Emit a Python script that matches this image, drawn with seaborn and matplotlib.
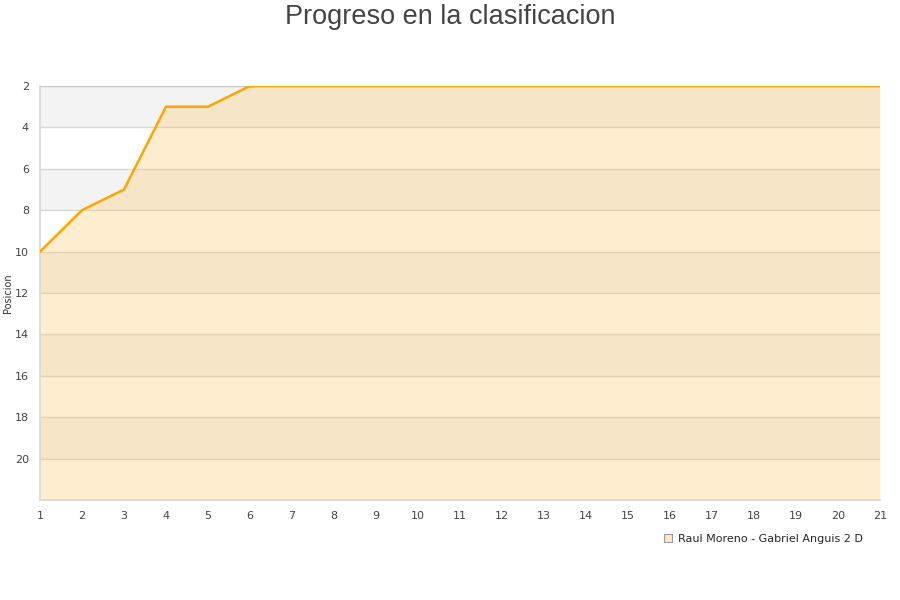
import matplotlib
matplotlib.use("Agg")
import numpy as np
import pandas as pd
import seaborn as sns
from matplotlib import pyplot as plt
from matplotlib.lines import Line2D

jornadas = list(range(1, 22))
posicion = [10, 8, 7, 3, 3, 2, 2, 2, 2, 2, 2, 2, 2, 2, 2, 2, 2, 2, 2, 2, 2]
y_ticks = [2, 4, 6, 8, 10, 12, 14, 16, 18, 20]
team_name = "Raul Moreno - Gabriel Anguis 2 D"

df = pd.DataFrame({"Jornada": jornadas, "Posicion": posicion})

sns.set_theme(style="white")
plt.rcParams["font.family"] = ["DejaVu Sans"]

fig = plt.figure(figsize=(9, 6), dpi=100)
ax = fig.add_axes([40 / 900, 100 / 600, 840 / 900, 414 / 600])

y_min, y_max = 2, 22
# alternating background bands
for i, lo in enumerate(range(y_min, y_max, 2)):
    if i % 2 == 0:
        ax.axhspan(lo, lo + 2, color="#f3f3f3", zorder=0, lw=0)
for t in y_ticks[1:]:
    ax.axhline(t, color="#d8d8d8", lw=1, zorder=1)

ax.fill_between(df["Jornada"], df["Posicion"], y_max, color="#ffc04f", alpha=0.27, lw=0, zorder=2)
sns.lineplot(data=df, x="Jornada", y="Posicion", ax=ax, color="#ffa500", lw=1.8, zorder=3)

ax.set_xlim(1, 21)
ax.set_ylim(y_max, y_min)
ax.set_xticks(jornadas)
ax.set_yticks(y_ticks)
ax.tick_params(axis="both", labelsize=8, colors="#444444", length=0, pad=8)
ax.set_xlabel("")
ax.set_ylabel("Posicion", fontsize=7, color="#333333")
ax.yaxis.set_label_coords(-27 / 840, 0.5)

ax.spines["right"].set_visible(False)
ax.spines["top"].set_visible(False)
ax.spines["left"].set_color("#d8d8d8")
ax.spines["bottom"].set_color("#d8d8d8")
ax.axhline(y_min, color="#c8c8c8", lw=1, zorder=1)

fig.text(0.5, 0.993, "Progreso en la clasificacion", ha="center", va="top", fontsize=19.5,
         color="#444444", family=["Liberation Sans", "DejaVu Sans"])

handle = Line2D([], [], marker="s", ls="", markersize=6, markerfacecolor="#fde9c4",
                markeredgecolor="#999999", markeredgewidth=0.8)
fig.legend([handle], [team_name], loc="center", bbox_to_anchor=(763 / 900, 1 - 539 / 600),
           frameon=False, fontsize=8, handletextpad=0.4, borderpad=0, handlelength=1)

fig.savefig("out.png", dpi=100)
